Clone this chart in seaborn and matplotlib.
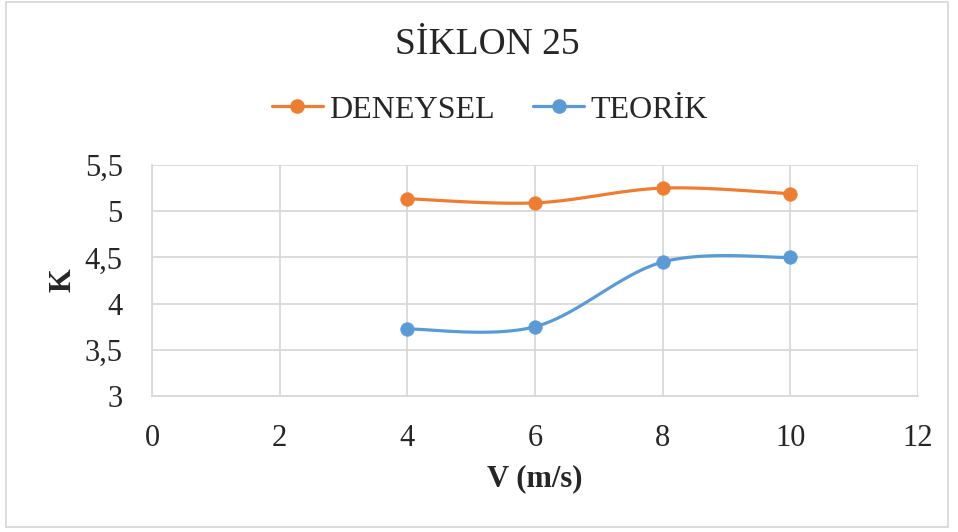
import numpy as np
import pandas as pd
import matplotlib
matplotlib.use("Agg")
import matplotlib.pyplot as plt
from matplotlib.lines import Line2D
from matplotlib.patches import Rectangle
import seaborn as sns

# ---- data ----
title = "SİKLON 25"
x_label = "V (m/s)"
y_label = "K"
series_names = ["DENEYSEL", "TEORİK"]
v_values = [4, 6, 8, 10]
deneysel = [5.135, 5.09, 5.25, 5.19]
teorik = [3.725, 3.75, 4.45, 4.50]
x_ticks = [0, 2, 4, 6, 8, 10, 12]
y_ticks = [3, 3.5, 4, 4.5, 5, 5.5]
colors = ["#ED7D31", "#5B9BD5"]

sns.set_theme(style="white")
plt.rcParams['font.family'] = ['Liberation Serif', 'DejaVu Serif']


def excel_smooth(xs, ys, sx, sy, n=40):
    """Excel-style smoothed line (Catmull-Rom Bezier) computed in screen-like scale."""
    px = np.asarray(xs, float) * sx
    py = np.asarray(ys, float) * sy
    P = np.column_stack([px, py])
    out = []
    m = len(P)
    for i in range(m - 1):
        p0 = P[i - 1] if i > 0 else P[i]
        p1 = P[i]
        p2 = P[i + 1]
        p3 = P[i + 2] if i + 2 < m else P[i + 1]
        c1 = p1 + (p2 - p0) / 6.0
        c2 = p2 - (p3 - p1) / 6.0
        t = np.linspace(0, 1, n)[:, None]
        seg = ((1 - t) ** 3) * p1 + 3 * ((1 - t) ** 2) * t * c1 + 3 * (1 - t) * t ** 2 * c2 + t ** 3 * p2
        if i > 0:
            seg = seg[1:]
        out.append(seg)
    out = np.vstack(out)
    return out[:, 0] / sx, out[:, 1] / sy


fig = plt.figure(figsize=(9.58, 5.32), dpi=100)
ax = fig.add_axes([152 / 958, 1 - 396 / 532, (918 - 152) / 958, (396 - 165) / 532])

for name, vals, col in zip(series_names, [deneysel, teorik], colors):
    sxv, syv = excel_smooth(v_values, vals, 63.8, 92.4)
    df_s = pd.DataFrame({"x": sxv, "y": syv, "seq": np.arange(len(sxv))})
    sns.lineplot(data=df_s, x="x", y="y", sort=False, estimator=None, ax=ax,
                 color=col, linewidth=2.3, zorder=3)
    df_p = pd.DataFrame({"x": v_values, "y": vals})
    sns.scatterplot(data=df_p, x="x", y="y", ax=ax, color=col, s=95,
                    edgecolor=col, linewidth=0.5, zorder=4)

ax.set_xlim(0, 12)
ax.set_ylim(3, 5.5)
ax.set_xticks(x_ticks)
ax.set_yticks(y_ticks)
ax.set_xticklabels([str(t) for t in x_ticks], fontsize=22)
ax.set_yticklabels([f"{t:g}".replace(".", ",") for t in y_ticks], fontsize=22)
ax.tick_params(axis="x", length=0, pad=20)
ax.tick_params(axis="y", length=0, pad=21)
ax.grid(True, color="#D9D9D9", linewidth=1.3)
ax.set_axisbelow(True)
for s in ax.spines.values():
    s.set_visible(False)
ax.spines["left"].set_visible(True)
ax.spines["bottom"].set_visible(True)
ax.spines["left"].set_color("#D9D9D9")
ax.spines["bottom"].set_color("#D9D9D9")
ax.spines["left"].set_linewidth(1.3)
ax.spines["bottom"].set_linewidth(1.3)

ax.set_xlabel(x_label, fontsize=22, fontweight="bold", labelpad=8)
ax.set_ylabel(y_label, fontsize=22, fontweight="bold", labelpad=5)

fig.text(487 / 958, 1 - 45 / 532, title, ha="center", va="center", fontsize=27)

handles = [Line2D([0], [0], color=c, linewidth=2.3, marker="o", markersize=9.5)
           for c in colors]
fig.legend(handles, series_names, loc="center", bbox_to_anchor=(490 / 958, 1 - 110 / 532),
           ncol=2, frameon=False, fontsize=23, handlelength=1.6, handletextpad=0.2,
           columnspacing=1.2)

fig.patches.append(Rectangle((6 / 958, 5 / 532), (948 - 6) / 958, (530 - 5) / 532,
                             transform=fig.transFigure, fill=False,
                             edgecolor="#D9D9D9", linewidth=1.3))

fig.savefig("out.png", dpi=100, facecolor="white")
